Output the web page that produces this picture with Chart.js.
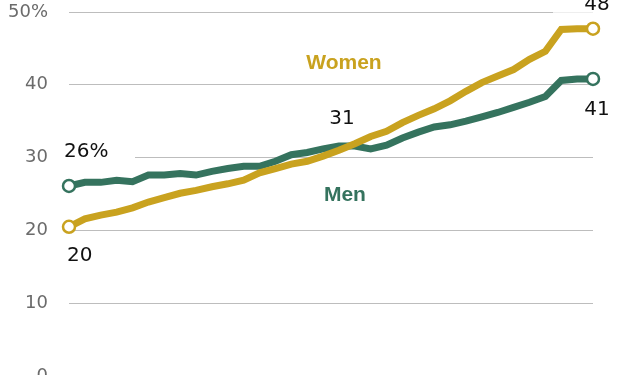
<!DOCTYPE html>
<html lang="en">
<head>
<meta charset="UTF-8">
<title>Women and men</title>
<script src="https://cdn.jsdelivr.net/npm/chart.js"></script>
<style>
    html, body {
        margin: 0;
        padding: 0;
        background: #fff;
        overflow: hidden;
    }
    #wrap {
        width: 620px;
        height: 375px;
        overflow: hidden;
    }
</style>
</head>
<body>
<div id="wrap">
    <canvas id="chart" width="620" height="400"></canvas>
</div>
<script>
    // years along the x axis (axis itself is hidden)
    const years = [];
    for (let y = 1990; y <= 2023; y++) years.push(String(y));

    const women = [20.5, 21.6, 22.1, 22.5, 23.1, 23.9, 24.5, 25.1, 25.5, 26.0,
                   26.4, 26.9, 27.9, 28.5, 29.1, 29.5, 30.2, 31.0, 31.9, 32.9,
                   33.6, 34.8, 35.8, 36.7, 37.8, 39.1, 40.3, 41.2, 42.1, 43.5,
                   44.6, 47.6, 47.7, 47.7];
    const men = [26.1, 26.6, 26.6, 26.9, 26.7, 27.6, 27.6, 27.8, 27.6, 28.1,
                 28.5, 28.8, 28.8, 29.5, 30.4, 30.7, 31.2, 31.6, 31.6, 31.2,
                 31.7, 32.7, 33.5, 34.2, 34.5, 35.0, 35.6, 36.2, 36.9, 37.6,
                 38.4, 40.6, 40.8, 40.8];
    const yTicks = [0, 10, 20, 30, 40, 50];

    const GOLD = '#c9a21f';
    const GREEN = '#35735e';
    const last = years.length - 1;

    const endPoint = (ctx) => (ctx.dataIndex === 0 || ctx.dataIndex === last) ? 6 : 0;

    // white patches behind some labels (they cut the gridlines in the original)
    const patches = {
        id: 'patches',
        beforeDatasetsDraw(chart) {
            const c = chart.ctx;
            const x = chart.scales.x, y = chart.scales.y;
            c.save();
            c.fillStyle = '#fff';
            // behind "26%"
            let px = x.getPixelForValue(0), py = y.getPixelForValue(men[0]);
            c.fillRect(px - 6, py - 46, 72, 26);
            // behind "48"
            px = x.getPixelForValue(last); py = y.getPixelForValue(women[last]);
            c.fillRect(px - 40, py - 40, 80, 24);
            c.restore();
        }
    };

    const labels = {
        id: 'labels',
        afterDatasetsDraw(chart) {
            const c = chart.ctx;
            const x = chart.scales.x, y = chart.scales.y;
            c.save();
            c.textBaseline = 'middle';
            c.font = '20px "DejaVu Sans"';
            c.fillStyle = '#111';

            c.textAlign = 'left';
            c.fillText(Math.round(men[0]) + '%', x.getPixelForValue(0) - 5, y.getPixelForValue(men[0]) - 34);
            c.fillText(String(Math.floor(women[0])), x.getPixelForValue(0) - 2, y.getPixelForValue(women[0]) + 29);

            c.textAlign = 'center';
            c.fillText('31', x.getPixelForValue(17) + 3, y.getPixelForValue(women[17]) - 32);
            c.fillText(String(Math.round(women[last])), x.getPixelForValue(last) + 4, y.getPixelForValue(women[last]) - 24);
            c.fillText(String(Math.round(men[last])), x.getPixelForValue(last) + 4, y.getPixelForValue(men[last]) + 31);

            c.font = 'bold 21px "Liberation Sans"';
            c.fillStyle = GOLD;
            c.fillText('Women', x.getPixelForValue(17) + 5, y.getPixelForValue(42.9));
            c.fillStyle = GREEN;
            c.fillText('Men', x.getPixelForValue(17) + 6, y.getPixelForValue(24.9));
            c.restore();
        }
    };

    new Chart(document.getElementById('chart'), {
        type: 'line',
        data: {
            labels: years,
            datasets: [{
                label: 'Women',
                data: women,
                borderColor: GOLD,
                borderWidth: 7,
                pointRadius: endPoint,
                pointBackgroundColor: '#fff',
                pointBorderColor: GOLD,
                pointBorderWidth: 2.5,
                tension: 0,
                clip: false
            }, {
                label: 'Men',
                data: men,
                borderColor: GREEN,
                borderWidth: 7,
                pointRadius: endPoint,
                pointBackgroundColor: '#fff',
                pointBorderColor: GREEN,
                pointBorderWidth: 2.5,
                tension: 0,
                clip: false
            }]
        },
        options: {
            responsive: false,
            animation: false,
            layout: { padding: { top: 12, right: 27, bottom: 24, left: 0 } },
            plugins: {
                legend: { display: false },
                tooltip: { enabled: false }
            },
            scales: {
                x: {
                    display: false,
                    offset: false
                },
                y: {
                    min: 0,
                    max: 50,
                    afterBuildTicks: (axis) => { axis.ticks = yTicks.map(v => ({ value: v })); },
                    afterFit: (axis) => { axis.width = 69; },
                    border: { display: false },
                    // tick marks are invisible; their length only spaces the labels
                    grid: { color: '#bdbdbd', lineWidth: 1, drawTicks: true, tickLength: 21, tickColor: 'rgba(0,0,0,0)' },
                    ticks: {
                        padding: 0,
                        color: '#6b6b6b',
                        font: { family: 'DejaVu Sans', size: 18 },
                        callback: (v) => v === 50 ? '50%' : v
                    }
                }
            }
        },
        plugins: [patches, labels]
    });
</script>
</body>
</html>
